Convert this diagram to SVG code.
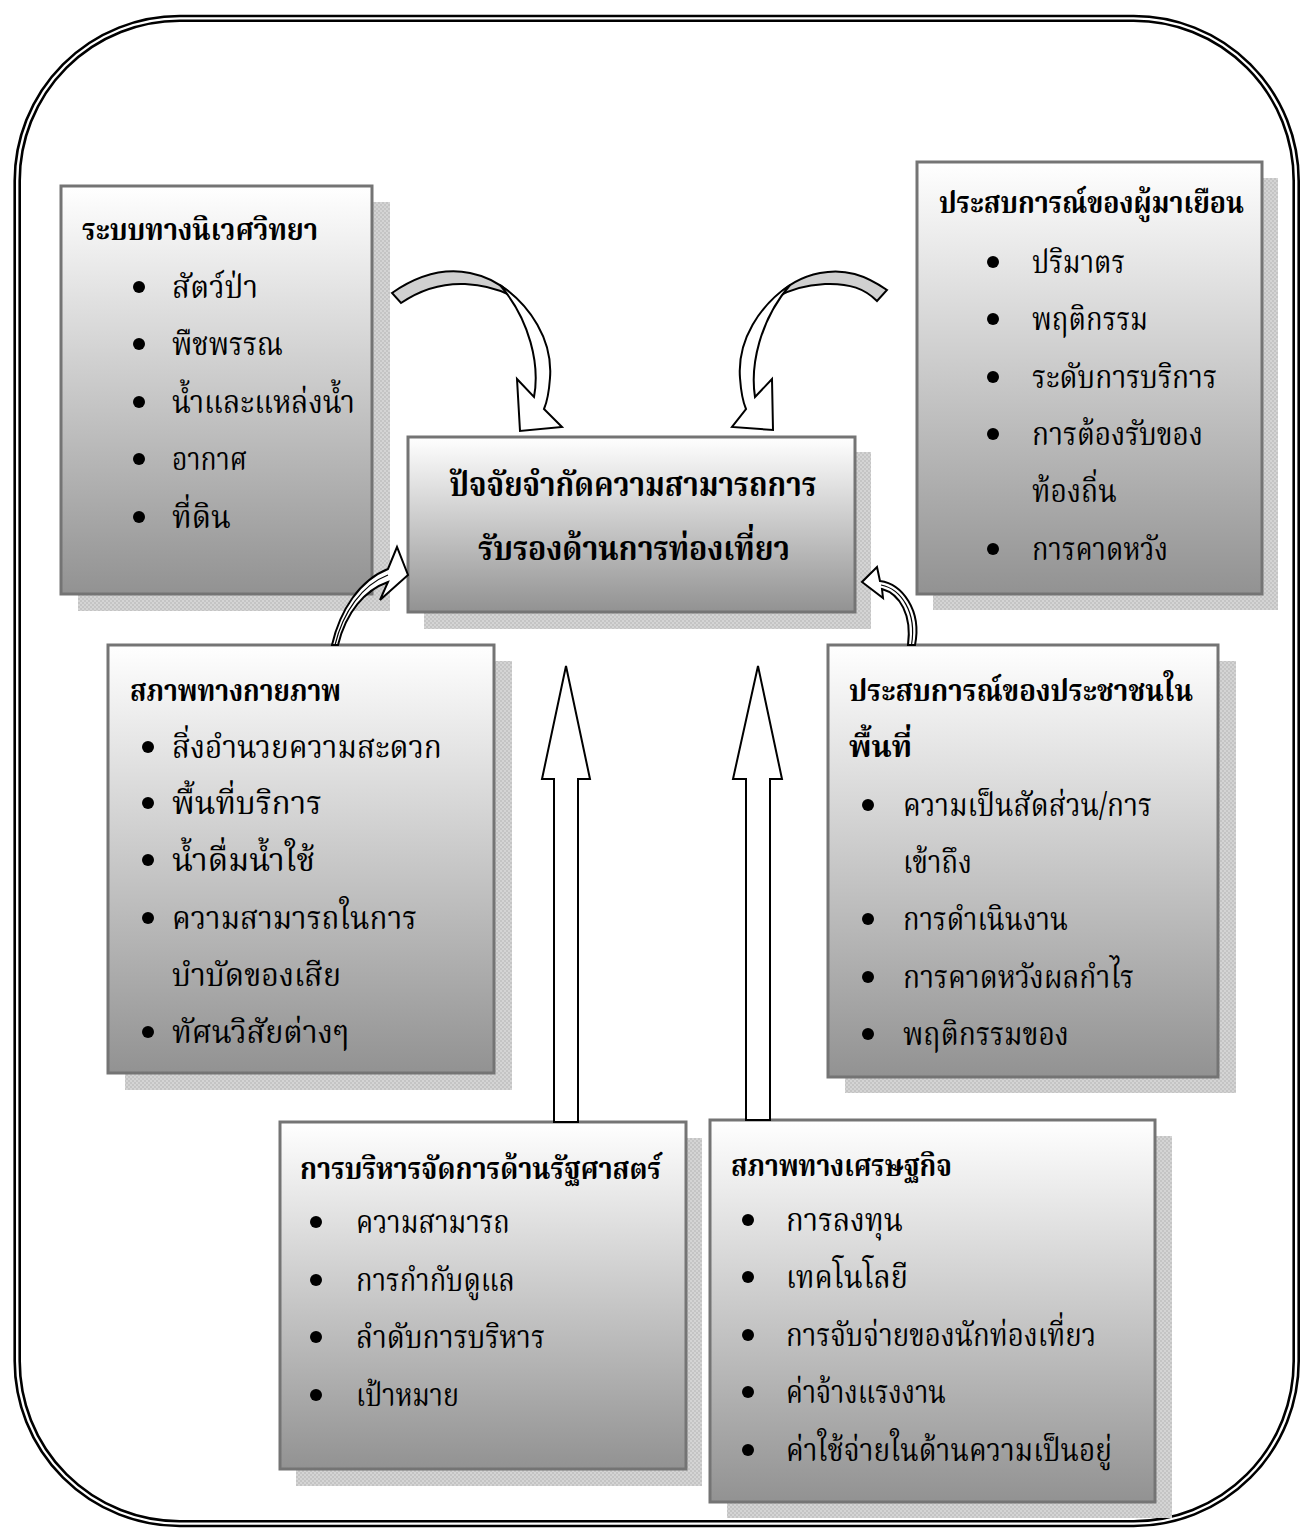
<svg xmlns="http://www.w3.org/2000/svg" width="1301" height="1528" viewBox="0 0 1301 1528">
<defs>
<linearGradient id="g" x1="0" y1="0" x2="0" y2="1">
<stop offset="0" stop-color="#ffffff"/>
<stop offset="1" stop-color="#929292"/>
</linearGradient>
<pattern id="chk" width="4" height="4" patternUnits="userSpaceOnUse">
<rect width="4" height="4" fill="#d4d4d4"/>
<rect width="2" height="2" fill="#c4c4c4"/>
<rect x="2" y="2" width="2" height="2" fill="#c4c4c4"/>
</pattern>
<style>
.sh{fill:url(#chk)}
.bx{fill:url(#g);stroke:#747474;stroke-width:3}
.t{font-family:'Noto Serif Thai','Noto Sans Thai','Liberation Serif',serif;font-size:32px;fill:#000}
.b{font-weight:bold;font-size:31px}
.c{font-size:34px;text-anchor:middle}
.ar{fill:#fff;stroke:#000;stroke-width:2;stroke-linejoin:miter}
.gr{fill:#d0d0d0;stroke:#000;stroke-width:2}
</style>
</defs>
<rect width="1301" height="1528" fill="#fff"/>
<g id="frame" fill="none" stroke="#000" stroke-width="2.6">
<rect x="14.7" y="16" width="1284" height="1510" rx="165" ry="165"/>
<rect x="19.7" y="20.7" width="1274" height="1500.6" rx="160" ry="160"/>
</g>

<g id="n1">
<rect class="sh" x="78" y="202" width="312" height="409"/>
<rect class="bx" x="61" y="186" width="311" height="408"/>
<text class="t b" x="82" y="240" textLength="236" lengthAdjust="spacingAndGlyphs">ระบบทางนิเวศวิทยา</text>
<g class="t"><circle cx="139" cy="287" r="6"/><text x="172" y="298" textLength="86" lengthAdjust="spacingAndGlyphs">สัตว์ป่า</text>
<circle cx="139" cy="344" r="6"/><text x="172" y="355" textLength="111" lengthAdjust="spacingAndGlyphs">พืชพรรณ</text>
<circle cx="139" cy="402" r="6"/><text x="172" y="413" textLength="183" lengthAdjust="spacingAndGlyphs">น้ำและแหล่งน้ำ</text>
<circle cx="139" cy="459" r="6"/><text x="172" y="470" textLength="75" lengthAdjust="spacingAndGlyphs">อากาศ</text>
<circle cx="139" cy="517" r="6"/><text x="172" y="528" textLength="59" lengthAdjust="spacingAndGlyphs">ที่ดิน</text></g>
</g>

<g id="n2">
<rect class="sh" x="933" y="178" width="345" height="432"/>
<rect class="bx" x="917" y="162" width="345" height="432"/>
<text class="t b" x="939" y="213" textLength="305" lengthAdjust="spacingAndGlyphs">ประสบการณ์ของผู้มาเยือน</text>
<g class="t"><circle cx="993" cy="262" r="6"/><text x="1032" y="273" textLength="93" lengthAdjust="spacingAndGlyphs">ปริมาตร</text>
<circle cx="993" cy="319" r="6"/><text x="1032" y="330" textLength="116" lengthAdjust="spacingAndGlyphs">พฤติกรรม</text>
<circle cx="993" cy="377" r="6"/><text x="1032" y="388" textLength="185" lengthAdjust="spacingAndGlyphs">ระดับการบริการ</text>
<circle cx="993" cy="434" r="6"/><text x="1032" y="445" textLength="171" lengthAdjust="spacingAndGlyphs">การต้องรับของ</text>
<text x="1032" y="502" textLength="85" lengthAdjust="spacingAndGlyphs">ท้องถิ่น</text>
<circle cx="993" cy="549" r="6"/><text x="1032" y="560" textLength="136" lengthAdjust="spacingAndGlyphs">การคาดหวัง</text></g>
</g>

<g id="n0">
<rect class="sh" x="424" y="452" width="447" height="177"/>
<rect class="bx" x="408" y="437" width="447" height="175"/>
<text class="t b c" x="633" y="496" textLength="367" lengthAdjust="spacingAndGlyphs">ปัจจัยจำกัดความสามารถการ</text>
<text class="t b c" x="634" y="560" textLength="312" lengthAdjust="spacingAndGlyphs">รับรองด้านการท่องเที่ยว</text>
</g>

<g id="n3">
<rect class="sh" x="125" y="661" width="387" height="429"/>
<rect class="bx" x="108" y="645" width="386" height="428"/>
<text class="t b" x="130" y="701" textLength="211" lengthAdjust="spacingAndGlyphs">สภาพทางกายภาพ</text>
<g class="t"><circle cx="148" cy="747" r="6"/><text x="172" y="758" textLength="270" lengthAdjust="spacingAndGlyphs">สิ่งอำนวยความสะดวก</text>
<circle cx="148" cy="803" r="6"/><text x="172" y="814" textLength="150" lengthAdjust="spacingAndGlyphs">พื้นที่บริการ</text>
<circle cx="148" cy="860" r="6"/><text x="172" y="871" textLength="143" lengthAdjust="spacingAndGlyphs">น้ำดื่มน้ำใช้</text>
<circle cx="148" cy="918" r="6"/><text x="172" y="929" textLength="245" lengthAdjust="spacingAndGlyphs">ความสามารถในการ</text>
<text x="172" y="986" textLength="169" lengthAdjust="spacingAndGlyphs">บำบัดของเสีย</text>
<circle cx="148" cy="1032" r="6"/><text x="172" y="1043" textLength="177" lengthAdjust="spacingAndGlyphs">ทัศนวิสัยต่างๆ</text></g>
</g>

<g id="n4">
<rect class="sh" x="845" y="661" width="391" height="432"/>
<rect class="bx" x="828" y="645" width="390" height="432"/>
<text class="t b" x="849" y="701" textLength="344" lengthAdjust="spacingAndGlyphs">ประสบการณ์ของประชาชนใน</text>
<text class="t b" x="849" y="757" textLength="63" lengthAdjust="spacingAndGlyphs">พื้นที่</text>
<g class="t"><circle cx="868" cy="805" r="6"/><text x="903" y="816" textLength="249" lengthAdjust="spacingAndGlyphs">ความเป็นสัดส่วน/การ</text>
<text x="903" y="873" textLength="69" lengthAdjust="spacingAndGlyphs">เข้าถึง</text>
<circle cx="868" cy="919" r="6"/><text x="903" y="930" textLength="165" lengthAdjust="spacingAndGlyphs">การดำเนินงาน</text>
<circle cx="868" cy="977" r="6"/><text x="903" y="988" textLength="231" lengthAdjust="spacingAndGlyphs">การคาดหวังผลกำไร</text>
<circle cx="868" cy="1034" r="6"/><text x="903" y="1045" textLength="166" lengthAdjust="spacingAndGlyphs">พฤติกรรมของ</text></g>
</g>

<g id="n5">
<rect class="sh" x="296" y="1138" width="406" height="348"/>
<rect class="bx" x="280" y="1122" width="406" height="347"/>
<text class="t b" x="300" y="1179" textLength="361" lengthAdjust="spacingAndGlyphs">การบริหารจัดการด้านรัฐศาสตร์</text>
<g class="t"><circle cx="316" cy="1222" r="6"/><text x="356" y="1233" textLength="154" lengthAdjust="spacingAndGlyphs">ความสามารถ</text>
<circle cx="316" cy="1280" r="6"/><text x="356" y="1291" textLength="159" lengthAdjust="spacingAndGlyphs">การกำกับดูแล</text>
<circle cx="316" cy="1337" r="6"/><text x="356" y="1348" textLength="189" lengthAdjust="spacingAndGlyphs">ลำดับการบริหาร</text>
<circle cx="316" cy="1395" r="6"/><text x="356" y="1406" textLength="103" lengthAdjust="spacingAndGlyphs">เป้าหมาย</text></g>
</g>

<g id="n6">
<rect class="sh" x="727" y="1136" width="445" height="382"/>
<rect class="bx" x="710" y="1120" width="445" height="382"/>
<text class="t b" x="731" y="1176" textLength="221" lengthAdjust="spacingAndGlyphs">สภาพทางเศรษฐกิจ</text>
<g class="t"><circle cx="748" cy="1220" r="6"/><text x="786" y="1231" textLength="117" lengthAdjust="spacingAndGlyphs">การลงทุน</text>
<circle cx="748" cy="1277" r="6"/><text x="786" y="1288" textLength="122" lengthAdjust="spacingAndGlyphs">เทคโนโลยี</text>
<circle cx="748" cy="1335" r="6"/><text x="786" y="1346" textLength="310" lengthAdjust="spacingAndGlyphs">การจับจ่ายของนักท่องเที่ยว</text>
<circle cx="748" cy="1392" r="6"/><text x="786" y="1403" textLength="160" lengthAdjust="spacingAndGlyphs">ค่าจ้างแรงงาน</text>
<circle cx="748" cy="1450" r="6"/><text x="786" y="1461" textLength="326" lengthAdjust="spacingAndGlyphs">ค่าใช้จ่ายในด้านความเป็นอยู่</text></g>
</g>

<g id="connectors">
<path class="gr" d="M392,293 C418,275 445,268 470,273 C490,277 505,287 515,298 C500,289 485,285 465,284 C440,283 420,290 401,303 Z"/>
<path class="ar" d="M500,285 C530,305 553,340 550,378 C549,392 547,402 544,409 L562,427 L520,431 L517,379 L534,397 C540,365 530,320 500,285 Z"/>
<path class="gr" d="M887,290 C865,275 845,268 820,273 C800,277 785,287 775,298 C790,289 805,285 825,284 C850,283 865,289 877,301 Z"/>
<path class="ar" d="M790,285 C760,305 737,340 740,378 C741,392 743,402 746,409 L732,427 L773,430 L772,379 L755,397 C750,365 760,320 790,285 Z"/>
<path class="ar" d="M332,645 C340,610 360,580 388,569 L397,547 L408,575 L380,600 L388,582 C365,590 346,612 338,645 Z"/>
<path fill="none" stroke="#000" stroke-width="1.2" d="M335,645 C343,612 362,585 388,575"/>
<path class="ar" d="M880,581 C902,584 922,610 915,645 L908,645 C912,615 900,594 882,589 L883,598 L862,582 L877,567 Z"/>
<path fill="none" stroke="#000" stroke-width="1.2" d="M881,585 C901,589 917,612 911.5,645"/>
<path class="ar" d="M566,666 L590,779 L578,779 L578,1122 L554,1122 L554,779 L542,779 Z"/>
<path class="ar" d="M758,666 L782,779 L770,779 L770,1120 L746,1120 L746,779 L733,779 Z"/>
</g>
</svg>
